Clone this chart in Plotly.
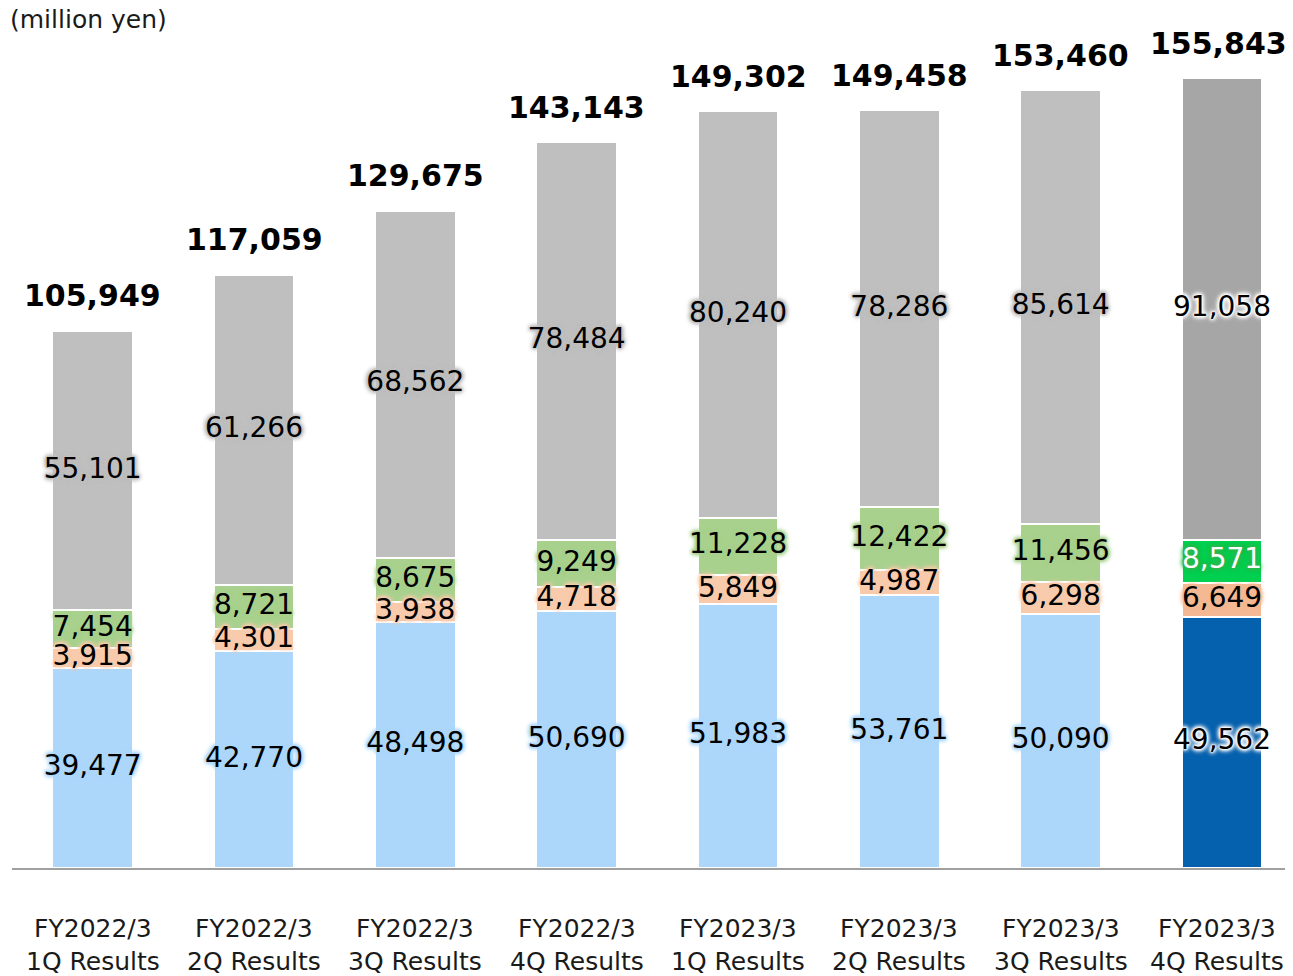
import plotly.graph_objects as go

categories = ["FY2022/3<br>1Q Results", "FY2022/3<br>2Q Results", "FY2022/3<br>3Q Results",
              "FY2022/3<br>4Q Results", "FY2023/3<br>1Q Results", "FY2023/3<br>2Q Results",
              "FY2023/3<br>3Q Results", "FY2023/3<br>4Q Results"]
seg_blue = [39477, 42770, 48498, 50690, 51983, 53761, 50090, 49562]
seg_peach = [3915, 4301, 3938, 4718, 5849, 4987, 6298, 6649]
seg_green = [7454, 8721, 8675, 9249, 11228, 12422, 11456, 8571]
seg_gray = [55101, 61266, 68562, 78484, 80240, 78286, 85614, 91058]
totals = [105949, 117059, 129675, 143143, 149302, 149458, 153460, 155843]

FONT = "DejaVu Sans"
series = [
    (seg_blue, "#ADD7FA", "#0560AE", "#ADD7FA", "#FFFFFF", "#000000"),
    (seg_peach, "#F8CBAD", "#F4B994", "#F8CBAD", "#F4B994", "#000000"),
    (seg_green, "#A9D18E", "#00D050", "#A9D18E", "#2DB84E", "#FFFFFF"),
    (seg_gray, "#BFBFBF", "#A6A6A6", "#BFBFBF", "#FFFFFF", "#000000"),
]


def sh(c):
    return ", ".join([f"0 0 2px {c}"] * 3 + [f"0 0 4px {c}"] * 3 + [f"0 0 6px {c}"] * 2)


fig = go.Figure()
base = [0] * len(categories)
for vals, col, lastcol, glow, lastglow, lasttxt in series:
    colors = [col] * (len(categories) - 1) + [lastcol]
    fig.add_trace(go.Bar(x=categories, y=vals, marker=dict(color=colors, line=dict(color="white", width=2)),
                         width=0.5, hoverinfo="skip"))
    mids = [b + v / 2 for b, v in zip(base, vals)]
    labels = [f"{v:,}" for v in vals]
    fig.add_trace(go.Scatter(x=categories[:-1], y=mids[:-1], text=labels[:-1], mode="text",
                             textposition="middle center", cliponaxis=False,
                             textfont=dict(family=FONT, size=28, color="#000000", shadow=sh(glow)),
                             hoverinfo="skip"))
    fig.add_trace(go.Scatter(x=categories[-1:], y=mids[-1:], text=labels[-1:], mode="text",
                             textposition="middle center", cliponaxis=False,
                             textfont=dict(family=FONT, size=28, color=lasttxt, shadow=sh(lastglow)),
                             hoverinfo="skip"))
    base = [b + v for b, v in zip(base, vals)]

n = len(categories)
for i, (c, t) in enumerate(zip(categories, totals)):
    fig.add_annotation(x=c, y=t, text=f"<b>{t:,}</b>", showarrow=False, yanchor="middle",
                       yshift=35, xshift=-4 if i == n - 1 else 0,
                       font=dict(family=FONT, size=30, color="#000000"))
    fig.add_annotation(x=c, y=0, yref="paper", text=c, showarrow=False, yanchor="top",
                       yshift=-44, xshift=-5 if i == n - 1 else 0,
                       font=dict(family=FONT, size=25, color="#1a1a1a"))

fig.add_annotation(text="(million yen)", xref="paper", yref="paper", x=-0.0035, y=1.0,
                   xanchor="left", yanchor="middle", yshift=9, showarrow=False,
                   font=dict(family=FONT, size=25, color="#1a1a1a"))

fig.update_layout(
    width=1285, height=968, barmode="stack", showlegend=False,
    plot_bgcolor="white", paper_bgcolor="white",
    margin=dict(l=4, r=0, t=20, b=108),
    font=dict(family=FONT, color="#1a1a1a"),
    xaxis=dict(range=[-0.5, 7.44], showline=True, linecolor="#A0A0A0", linewidth=2,
               showgrid=False, ticks="", showticklabels=False, automargin=False),
    yaxis=dict(range=[0, 165707], visible=False, showgrid=False, automargin=False),
)
fig.write_html("out.html")
